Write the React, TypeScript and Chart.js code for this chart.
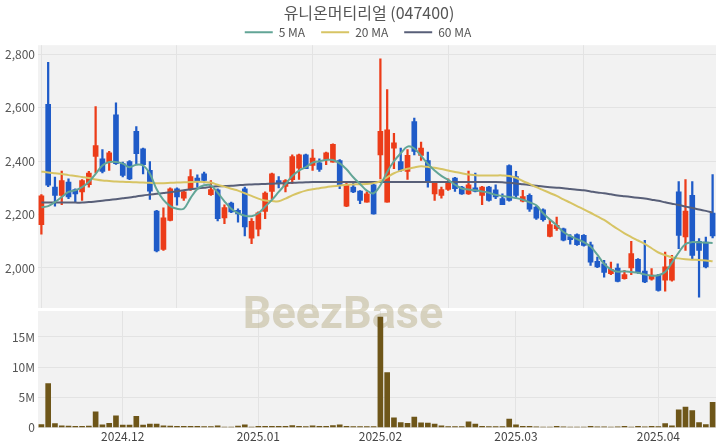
import React, { useEffect, useRef } from 'react';
import { Chart, registerables } from 'chart.js';

Chart.register(...registerables);

const TITLE = '유니온머티리얼 (047400)';

const dates = [
  '2024-11-14','2024-11-15','2024-11-18','2024-11-19','2024-11-20','2024-11-21','2024-11-22','2024-11-25','2024-11-26','2024-11-27','2024-11-28','2024-11-29',
  '2024-12-02','2024-12-03','2024-12-04','2024-12-05','2024-12-06','2024-12-09','2024-12-10','2024-12-11','2024-12-12','2024-12-13','2024-12-16','2024-12-17','2024-12-18','2024-12-19','2024-12-20','2024-12-23','2024-12-24','2024-12-26','2024-12-27','2024-12-30',
  '2025-01-02','2025-01-03','2025-01-06','2025-01-07','2025-01-08','2025-01-09','2025-01-10','2025-01-13','2025-01-14','2025-01-15','2025-01-16','2025-01-17','2025-01-20','2025-01-21','2025-01-22','2025-01-23','2025-01-24','2025-01-31',
  '2025-02-03','2025-02-04','2025-02-05','2025-02-06','2025-02-07','2025-02-10','2025-02-11','2025-02-12','2025-02-13','2025-02-14','2025-02-17','2025-02-18','2025-02-19','2025-02-20','2025-02-21','2025-02-24','2025-02-25','2025-02-26','2025-02-27','2025-02-28',
  '2025-03-03','2025-03-04','2025-03-05','2025-03-06','2025-03-07','2025-03-10','2025-03-11','2025-03-12','2025-03-13','2025-03-14','2025-03-17','2025-03-18','2025-03-19','2025-03-20','2025-03-21','2025-03-24','2025-03-25','2025-03-26','2025-03-27','2025-03-28','2025-03-31',
  '2025-04-01','2025-04-02','2025-04-03','2025-04-04','2025-04-07','2025-04-08','2025-04-09','2025-04-10','2025-04-11',
];

const opens = [
  2162,2613,2303,2272,2322,2294,2285,2312,2418,2409,2397,2574,2391,2399,2512,2447,2366,2213,2070,2178,
  2297,2262,2297,2337,2353,2275,2293,2188,2243,2216,2297,2112,2145,2212,2287,2328,2306,2331,2374,2424,
  2384,2394,2407,2397,2403,2232,2303,2288,2247,2312,2424,2247,2449,2399,2362,2549,2422,2403,2278,2272,
  2294,2337,2303,2278,2300,2272,2303,2293,2260,2384,2343,2250,2272,2228,2218,2118,2147,2147,2118,2125,
  2122,2087,2025,2016,1979,2000,1960,2000,2032,1988,1958,1973,1954,1954,2285,2116,2272,2100,2097,2206,
];
const highs = [
  2275,2771,2341,2363,2334,2297,2331,2362,2605,2444,2437,2619,2397,2403,2530,2449,2399,2216,2225,2300,
  2300,2287,2369,2349,2359,2328,2297,2237,2247,2222,2303,2185,2210,2285,2356,2343,2331,2424,2427,2427,
  2444,2409,2434,2465,2406,2322,2322,2290,2285,2314,2784,2669,2505,2449,2444,2562,2472,2434,2324,2303,
  2334,2340,2306,2363,2356,2306,2306,2312,2278,2387,2362,2291,2278,2231,2222,2182,2191,2150,2125,2128,
  2125,2097,2041,2029,2022,2016,1991,2100,2035,2104,1998,1976,2060,2047,2324,2331,2324,2110,2116,2350,
];
const lows = [
  2127,2305,2232,2237,2260,2247,2253,2303,2356,2356,2366,2388,2341,2331,2391,2353,2257,2060,2066,2176,
  2235,2253,2291,2303,2319,2272,2176,2166,2207,2172,2120,2091,2120,2185,2257,2300,2285,2316,2332,2372,
  2366,2362,2387,2397,2297,2230,2282,2241,2247,2202,2334,2247,2372,2362,2332,2424,2403,2303,2253,2262,
  2291,2287,2276,2276,2285,2237,2250,2260,2237,2250,2260,2248,2212,2182,2175,2116,2141,2101,2089,2085,
  2082,2010,2001,1966,1975,1948,1958,1975,1980,1945,1954,1913,1913,1951,2072,2066,2035,1891,2000,2113,
];
const closes = [
  2270,2310,2272,2328,2266,2278,2328,2356,2459,2362,2432,2391,2347,2334,2428,2387,2288,2064,2188,2297,
  2266,2285,2343,2324,2328,2294,2185,2226,2210,2203,2154,2175,2207,2281,2353,2319,2328,2418,2424,2372,
  2412,2369,2432,2463,2310,2312,2285,2253,2278,2203,2512,2518,2469,2366,2422,2437,2449,2322,2322,2294,
  2322,2297,2278,2312,2287,2303,2253,2266,2237,2253,2272,2268,2220,2187,2181,2163,2160,2104,2106,2087,
  2085,2022,2004,1983,1995,1950,1975,2054,1983,1948,1973,1916,2004,2032,2122,2213,2047,2066,2004,2120,
];
const volumes = [
  500000,7300000,650000,300000,250000,200000,200000,250000,2600000,450000,700000,1950000,400000,400000,1850000,400000,600000,600000,300000,250000,
  200000,200000,200000,200000,150000,150000,300000,100000,100000,250000,450000,100000,200000,200000,200000,200000,200000,350000,200000,150000,
  300000,200000,200000,350000,450000,200000,150000,150000,150000,150000,18300000,9100000,1600000,850000,700000,1750000,800000,750000,570000,280000,
  180000,180000,180000,970000,570000,230000,180000,180000,180000,1420000,450000,230000,200000,110000,80000,100000,220000,120000,100000,80000,
  100000,200000,120000,120000,80000,120000,200000,100000,200000,120000,200000,150000,680000,280000,2950000,3400000,2800000,850000,500000,4200000,
];
const ma5 = [
  2228,2232,2247,2266,2285,2291,2303,2322,2353,2384,2397,2397,2391,2378,2387,2384,2353,2295,2255,2232,
  2222,2222,2262,2296,2310,2310,2282,2250,2222,2206,2196,2194,2205,2230,2255,2285,2314,2345,2365,2378,
  2395,2400,2405,2405,2392,2370,2340,2315,2290,2280,2310,2360,2400,2430,2455,2448,2420,2390,2365,2345,
  2330,2312,2298,2294,2291,2287,2282,2274,2270,2266,2262,2256,2246,2235,2205,2182,2160,2135,2120,2108,
  2097,2080,2050,2015,1995,1986,1988,1985,1982,1976,1971,1973,1985,2020,2058,2090,2097,2096,2095,2094,
];
const ma20 = [
  2362,2358,2355,2352,2348,2345,2341,2337,2332,2328,2326,2324,2323,2322,2321,2320,2319,2318,2318,2319,
  2320,2321,2322,2323,2322,2320,2312,2305,2297,2290,2280,2270,2260,2253,2251,2250,2260,2272,2282,2290,
  2295,2299,2303,2306,2309,2312,2313,2314,2315,2318,2325,2340,2355,2365,2372,2377,2381,2379,2376,2371,
  2365,2360,2355,2350,2348,2347,2347,2347,2347,2345,2338,2326,2315,2303,2292,2281,2270,2257,2245,2232,
  2220,2207,2193,2180,2163,2146,2130,2116,2103,2090,2074,2058,2048,2040,2036,2033,2031,2030,2028,2025,
];
const ma60 = [
  2245,2245,2245,2245,2245,2245,2245,2247,2249,2252,2255,2258,2261,2264,2268,2272,2275,2278,2281,2284,
  2288,2291,2295,2298,2301,2304,2306,2307,2308,2310,2312,2313,2314,2315,2316,2317,2318,2319,2320,2321,
  2322,2322,2322,2322,2322,2322,2322,2322,2322,2322,2322,2322,2322,2322,2322,2322,2322,2322,2322,2322,
  2322,2322,2322,2322,2322,2322,2322,2322,2321,2319,2317,2314,2311,2308,2305,2303,2301,2299,2296,2293,
  2291,2287,2283,2280,2276,2272,2269,2266,2263,2260,2256,2252,2246,2241,2236,2230,2225,2219,2214,2208,
];
const priceTicks = [2000, 2200, 2400, 2600, 2800];
const volumeTicks = [0, 5000000, 10000000, 15000000];
const PRICE_MIN = 1850;
const PRICE_MAX = 2835;
const VOLUME_MAX = 19300000;

const UP = '#ec3c19';
const DOWN = '#1f5bc8';
const VOL = '#6e5619';
const FONT = "'Noto Sans CJK KR', 'Noto Sans', sans-serif";
const PRICE_H = 311;
const VOL_H = 137;

const monthLabel = (i: number): string | null => {
  if (i === 0) return null;
  const cur = dates[i].slice(0, 7);
  const prev = dates[i - 1].slice(0, 7);
  return cur !== prev ? cur.replace('-', '.') : null;
};

const candleColors = opens.map((o, i) => (closes[i] >= o ? UP : DOWN));

const bgPlugin = {
  id: 'plotBg',
  beforeDraw(chart: any) {
    const { ctx, chartArea: a } = chart;
    ctx.save();
    ctx.fillStyle = '#f2f2f2';
    ctx.fillRect(a.left, a.top, a.right - a.left, a.bottom - a.top);
    ctx.restore();
  },
};

// centre the title over the plot area and tighten the legend box
const headerTweak = {
  id: 'headerTweak',
  beforeLayout(chart: any) {
    const lg = chart.legend;
    if (lg && !lg.__patched) {
      const orig = lg.fit;
      lg.fit = function (this: any) {
        orig.call(this);
        this.height -= 3;
      };
      lg.__patched = true;
    }
  },
  afterLayout(chart: any) {
    const t = chart.titleBlock;
    if (t) {
      t.left = 22;
    }
  },
};

const makeWatermark = (offsetY: number) => ({
  id: 'watermark',
  beforeDatasetsDraw(chart: any) {
    const { ctx } = chart;
    ctx.save();
    ctx.font = "bold 45px Roboto, 'Noto Sans', sans-serif";
    ctx.fillStyle = 'rgba(186,176,138,0.5)';
    ctx.textAlign = 'center';
    ctx.textBaseline = 'alphabetic';
    ctx.fillText('BeezBase', 343, 328 - offsetY);
    ctx.restore();
  },
});

const noPad = (s: any) => {
  s.width = 38;
  s.paddingTop = 0;
  s.paddingBottom = 0;
};

export default function App() {
  const priceRef = useRef<HTMLCanvasElement | null>(null);
  const volRef = useRef<HTMLCanvasElement | null>(null);

  useEffect(() => {
    document.body.style.margin = '0';
    Chart.defaults.font.family = FONT;
    const labels = dates;

    const price = new Chart(priceRef.current as HTMLCanvasElement, {
      type: 'bar',
      data: {
        labels,
        datasets: [
          { type: 'line', label: '5 MA', data: ma5, borderColor: 'rgb(98,165,150)', backgroundColor: 'rgb(98,165,150)', borderWidth: 2, pointRadius: 0, tension: 0.35, order: 0 } as any,
          { type: 'line', label: '20 MA', data: ma20, borderColor: 'rgb(215,196,100)', backgroundColor: 'rgb(215,196,100)', borderWidth: 2, pointRadius: 0, tension: 0.35, order: 0 } as any,
          { type: 'line', label: '60 MA', data: ma60, borderColor: 'rgb(88,95,120)', backgroundColor: 'rgb(88,95,120)', borderWidth: 2, pointRadius: 0, tension: 0.35, order: 0 } as any,
          { type: 'bar', label: 'wick', data: lows.map((l, i) => [l, highs[i]]), backgroundColor: candleColors, barThickness: 1.6, grouped: false, order: 2 } as any,
          { type: 'bar', label: 'body', data: opens.map((o, i) => [o, closes[i]]), backgroundColor: candleColors, barThickness: 5, minBarLength: 1.5, grouped: false, order: 1 } as any,
        ],
      },
      options: {
        responsive: false,
        animation: false,
        events: [],
        layout: { padding: { left: 0, right: 4, top: 0, bottom: 3 } },
        plugins: {
          title: {
            display: true,
            text: TITLE,
            color: '#555',
            font: { size: 16, weight: 'normal', family: FONT },
            padding: { top: 3, bottom: -12 },
          },
          legend: {
            display: true,
            labels: {
              filter: (item: any) => /MA$/.test(item.text),
              usePointStyle: true,
              pointStyle: 'line',
              pointStyleWidth: 28,
              boxHeight: 12,
              color: '#555',
              font: { size: 12, family: FONT },
              padding: 16,
            },
          },
          tooltip: { enabled: false },
        },
        scales: {
          x: {
            type: 'category',
            offset: true,
            ticks: { display: false, autoSkip: false },
            grid: {
              offset: false,
              drawTicks: false,
              color: (c: any) => (c.index % 20 === 0 ? '#e3e3e3' : 'transparent'),
            },
            border: { display: false },
          },
          y: {
            type: 'linear',
            min: PRICE_MIN,
            max: PRICE_MAX,
            afterBuildTicks: (s: any) => { s.ticks = priceTicks.map((v) => ({ value: v })); },
            afterFit: noPad,
            ticks: {
              color: '#555',
              font: { size: 12, family: FONT },
              padding: 3,
              callback: (v: any) => Number(v).toLocaleString('en-US'),
            },
            grid: { color: '#e3e3e3', drawTicks: false },
            border: { display: false },
          },
        },
      },
      plugins: [bgPlugin, headerTweak, makeWatermark(0)],
    });

    const vol = new Chart(volRef.current as HTMLCanvasElement, {
      type: 'bar',
      data: {
        labels,
        datasets: [
          { label: 'Volume', data: volumes, backgroundColor: VOL, barThickness: 5 } as any,
        ],
      },
      options: {
        responsive: false,
        animation: false,
        events: [],
        layout: { padding: { left: 0, right: 4, top: 0, bottom: 2 } },
        plugins: { legend: { display: false }, tooltip: { enabled: false } },
        scales: {
          x: {
            type: 'category',
            offset: true,
            ticks: {
              autoSkip: false,
              maxRotation: 0,
              color: '#444',
              font: { size: 12, family: FONT },
              padding: 2,
              callback: (_v: any, i: number) => monthLabel(i),
            },
            grid: { offset: false, drawTicks: false, color: '#e3e3e3' },
            border: { display: false },
          },
          y: {
            type: 'linear',
            min: 0,
            max: VOLUME_MAX,
            afterBuildTicks: (s: any) => { s.ticks = volumeTicks.map((v) => ({ value: v })); },
            afterFit: noPad,
            ticks: {
              color: '#555',
              font: { size: 12, family: FONT },
              padding: 3,
              callback: (v: any) => (Number(v) === 0 ? '0' : `${Number(v) / 1000000}M`),
            },
            grid: { color: '#e3e3e3', drawTicks: false },
            border: { display: false },
          },
        },
      },
      plugins: [bgPlugin, makeWatermark(PRICE_H)],
    });

    return () => {
      price.destroy();
      vol.destroy();
    };
  }, []);

  return (
    <div style={{ position: 'fixed', left: 0, top: 0, width: 720, height: 448, background: '#fff' }}>
      <canvas ref={priceRef} width={720} height={PRICE_H} style={{ position: 'absolute', left: 0, top: 0, width: 720, height: PRICE_H }} />
      <canvas ref={volRef} width={720} height={VOL_H} style={{ position: 'absolute', left: 0, top: PRICE_H, width: 720, height: VOL_H }} />
    </div>
  );
}
